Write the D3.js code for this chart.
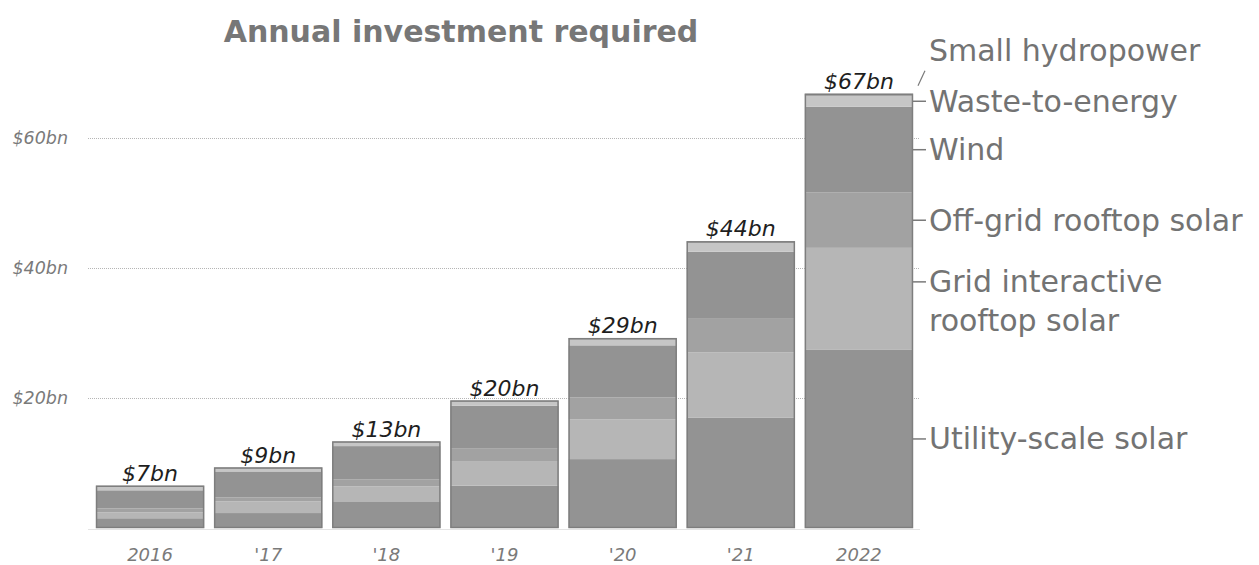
<!DOCTYPE html>
<html>
<head>
<meta charset="utf-8">
<script src="https://cdn.jsdelivr.net/npm/d3@7"></script>
<style>
  body { margin: 0; background: #fff; }
  svg { display: block; font-family: "DejaVu Sans", sans-serif; }
</style>
</head>
<body>
<svg width="1259" height="565"></svg>
<script>
// Data (US$ bn)
const years = ["2016", "'17", "'18", "'19", "'20", "'21", "2022"];
const totalLabels = ["$7bn", "$9bn", "$13bn", "$20bn", "$29bn", "$44bn", "$67bn"];
const utilitySolar = [1.5, 2.3, 4.0, 6.5, 10.6, 17.0, 27.4];
const gridRooftop = [0.9, 1.8, 2.4, 3.8, 6.1, 10.0, 15.7];
const offgridRooftop = [0.6, 0.6, 1.1, 1.9, 3.4, 5.3, 8.5];
const wind = [2.8, 4.0, 5.1, 6.6, 8.0, 10.2, 13.2];
const wasteToEnergy = [0.6, 0.5, 0.6, 0.7, 0.9, 1.4, 1.7];
const smallHydro = [0.1, 0.1, 0.1, 0.1, 0.2, 0.2, 0.3];
const yTicks = [20, 40, 60];

const seriesKeys = ["Utility-scale solar", "Grid interactive rooftop solar", "Off-grid rooftop solar",
                    "Wind", "Waste-to-energy", "Small hydropower"];
const seriesValues = [utilitySolar, gridRooftop, offgridRooftop, wind, wasteToEnergy, smallHydro];
const seriesColors = ["#939393", "#b6b6b6", "#a2a2a2", "#939393", "#c6c6c6", "#8a8a8a"];

// table for d3.stack
const table = years.map((y, i) => {
    const row = { year: y };
    seriesKeys.forEach((k, j) => row[k] = seriesValues[j][i]);
    return row;
});
const stacked = d3.stack().keys(seriesKeys)(table);

const svg = d3.select("svg");

const x = d3.scaleBand()
    .domain(years)
    .range([91, 918])
    .paddingInner(0.085)
    .paddingOuter(0.0425);

const y = d3.scaleLinear()
    .domain([0, 60])
    .range([528, 138]);

// gridlines
svg.append("g").selectAll("line")
    .data(yTicks)
    .enter().append("line")
    .attr("x1", 88)
    .attr("x2", 920)
    .attr("y1", d => Math.round(y(d)) + 0.5)
    .attr("y2", d => Math.round(y(d)) + 0.5)
    .attr("stroke", "#b5b5b5")
    .attr("stroke-width", 1)
    .attr("stroke-dasharray", "1,1");

// y labels
svg.append("g").selectAll("text")
    .data(yTicks)
    .enter().append("text")
    .attr("x", 68)
    .attr("y", d => y(d))
    .attr("dy", "0.35em")
    .attr("text-anchor", "end")
    .style("font-size", "17.5px")
    .style("font-style", "italic")
    .attr("fill", "#7a7a7a")
    .text(d => `$${d}bn`);

// baseline
svg.append("line")
    .attr("x1", 88).attr("x2", 920)
    .attr("y1", y(0) + 1.5).attr("y2", y(0) + 1.5)
    .attr("stroke", "#e4e4e4");

// stacked segments
svg.append("g").selectAll("g")
    .data(stacked)
    .enter().append("g")
    .attr("fill", (d, i) => seriesColors[i])
    .selectAll("rect")
    .data(d => d)
    .enter().append("rect")
    .attr("x", d => x(d.data.year))
    .attr("y", d => y(d[1]))
    .attr("width", x.bandwidth())
    .attr("height", d => y(d[0]) - y(d[1]));

// outline around each bar
const totals = years.map((yr, i) => d3.sum(seriesValues, s => s[i]));
svg.append("g").selectAll("rect")
    .data(years)
    .enter().append("rect")
    .attr("x", d => x(d) + 0.5)
    .attr("y", (d, i) => y(totals[i]) + 0.5)
    .attr("width", x.bandwidth() - 1)
    .attr("height", (d, i) => y(0) - y(totals[i]) - 1)
    .attr("fill", "none")
    .attr("stroke", "#7e7e7e")
    .attr("stroke-width", 1.5);

// total labels
svg.append("g").selectAll("text")
    .data(years)
    .enter().append("text")
    .attr("x", d => x(d) + x.bandwidth() / 2)
    .attr("y", (d, i) => y(totals[i]) - 5)
    .attr("text-anchor", "middle")
    .style("font-size", "22px")
    .style("font-style", "italic")
    .attr("fill", "#1e1e1e")
    .text((d, i) => totalLabels[i]);

// x labels
svg.append("g").selectAll("text")
    .data(years)
    .enter().append("text")
    .attr("x", d => x(d) + x.bandwidth() / 2)
    .attr("y", 555)
    .attr("dy", "0.35em")
    .attr("text-anchor", "middle")
    .style("font-size", "18px")
    .style("font-style", "italic")
    .attr("fill", "#7a7a7a")
    .text(d => d);

// title
svg.append("text")
    .attr("x", 461)
    .attr("y", 42)
    .attr("text-anchor", "middle")
    .style("font-size", "30px")
    .style("font-weight", "bold")
    .attr("fill", "#777")
    .text("Annual investment required");

// right-hand labels, tied to the 2022 stack
const last = years.length - 1;
const barRight = x(years[last]) + x.bandwidth();
const legendItems = [
    { key: "Waste-to-energy", lines: ["Waste-to-energy"] },
    { key: "Wind", lines: ["Wind"] },
    { key: "Off-grid rooftop solar", lines: ["Off-grid rooftop solar"] },
    { key: "Grid interactive rooftop solar", lines: ["Grid interactive", "rooftop solar"] },
    { key: "Utility-scale solar", lines: ["Utility-scale solar"] }
];
const legend = svg.append("g").attr("fill", "#737373").style("font-size", "30px");

legendItems.forEach(item => {
    const s = stacked[seriesKeys.indexOf(item.key)][last];
    // multi-line labels hang their first line a little above the segment middle
    const mid = (y(s[0]) + y(s[1])) / 2 - (item.lines.length > 1 ? 17 : 0);
    legend.append("line")
        .attr("x1", barRight).attr("x2", barRight + 13)
        .attr("y1", mid).attr("y2", mid)
        .attr("stroke", "#7a7a7a").attr("stroke-width", 1.5);
    item.lines.forEach((t, k) => {
        legend.append("text")
            .attr("x", barRight + 16)
            .attr("y", mid + k * 39)
            .attr("dy", "0.35em")
            .text(t);
    });
});

// small hydropower, pointed to with a slash
const hydroTop = y(totals[last]);
legend.append("line")
    .attr("x1", barRight + 5).attr("y1", hydroTop - 8)
    .attr("x2", barRight + 12).attr("y2", hydroTop - 23)
    .attr("stroke", "#7a7a7a").attr("stroke-width", 1.2);
legend.append("text")
    .attr("x", barRight + 16)
    .attr("y", 50)
    .attr("dy", "0.35em")
    .text("Small hydropower");
</script>
</body>
</html>
